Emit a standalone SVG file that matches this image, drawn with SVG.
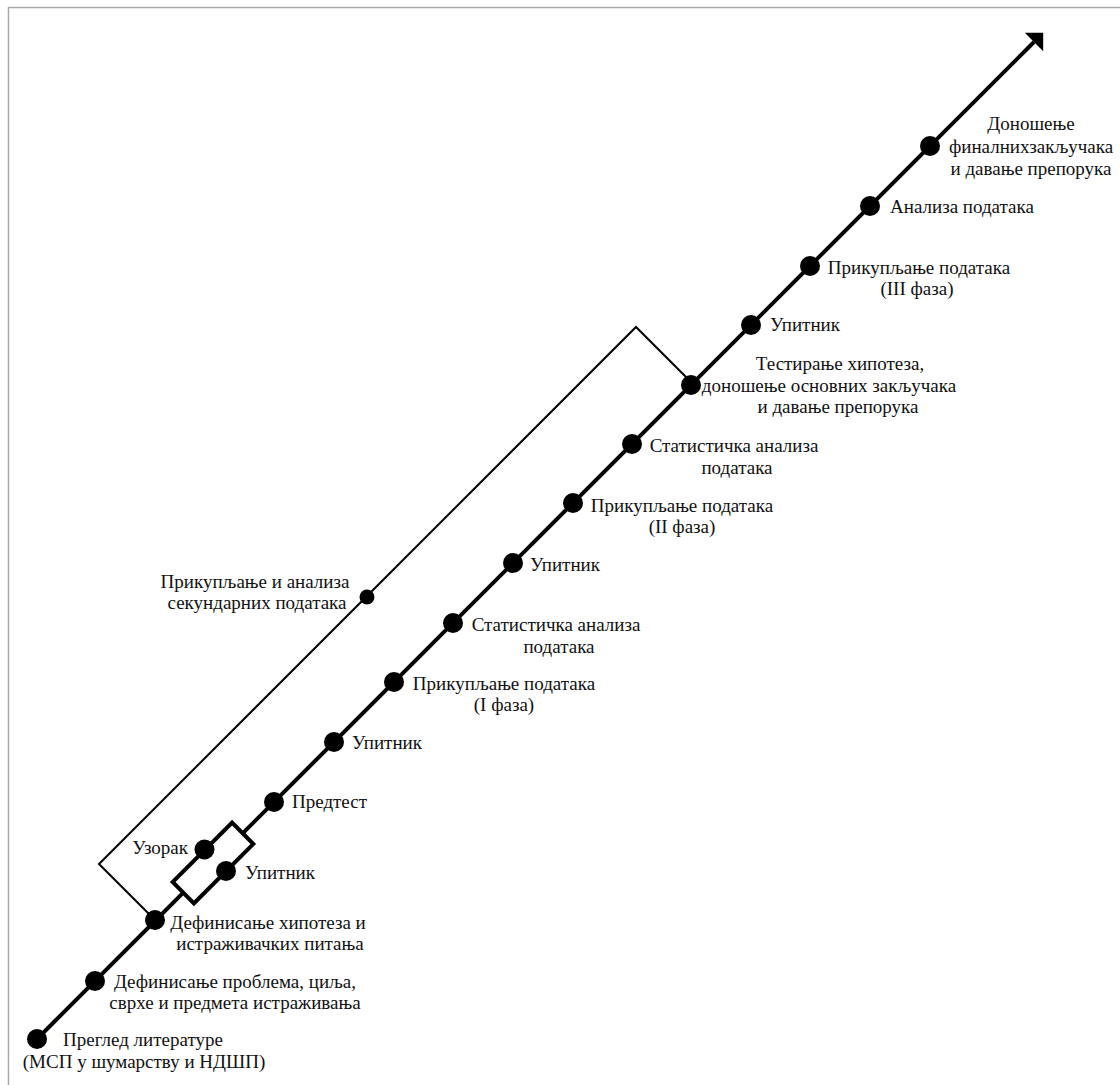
<svg xmlns="http://www.w3.org/2000/svg" width="1120" height="1085" viewBox="0 0 1120 1085">
<style>
text{font-family:"Liberation Serif","Times New Roman",serif;font-size:19px;fill:#111}
.m{text-anchor:middle}
.e{text-anchor:end}
.dot{fill:#000}
.main{stroke:#000;stroke-width:4;fill:none}
.thin{stroke:#000;stroke-width:2;fill:none}
.frame{stroke:#a8a8a8;stroke-width:1.5;fill:none}
</style>
<defs>
<marker id="arrow" markerUnits="userSpaceOnUse" markerWidth="30" markerHeight="30" refX="0" refY="0" viewBox="-2 -15 17 30" orient="auto">
<path d="M0,-13 L13,0 L0,13 Z" fill="#000"/>
</marker>
</defs>
<rect width="1120" height="1085" fill="#fff"/>
<path class="frame" d="M8.5,1085 L8.5,7.5 L1120,7.5"/>
<g id="connectors">
<path class="thin" d="M155,920 L99,864 L636,327 L691,382"/>
<line class="main" x1="37" y1="1039" x2="183.3" y2="892.7"/>
<rect class="main" x="171" y="848" width="84" height="30" transform="rotate(-45 213 863)"/>
<line class="main" x1="242.7" y1="833.3" x2="1034" y2="42" marker-end="url(#arrow)"/>
</g>
<g id="n1"><circle class="dot" cx="37" cy="1039" r="10"/><text class="m" x="143" y="1046">Преглед литературе</text><text class="m" x="144" y="1068">(МСП у шумарству и НДШП)</text></g>
<g id="n2"><circle class="dot" cx="95" cy="981" r="10"/><text class="m" x="235" y="988">Дефинисање проблема, циља,</text><text class="m" x="235" y="1009">сврхе и предмета истраживања</text></g>
<g id="n3"><circle class="dot" cx="155" cy="920" r="10"/><text class="m" x="268" y="929">Дефинисање хипотеза и</text><text class="m" x="270" y="950">истраживачких питања</text></g>
<g id="n4"><circle class="dot" cx="204.5" cy="849.5" r="10"/><text class="e" x="188" y="854">Узорак</text></g>
<g id="n5"><circle class="dot" cx="226" cy="871" r="10"/><text x="245" y="879">Упитник</text></g>
<g id="n6"><circle class="dot" cx="274" cy="802" r="10"/><text x="292" y="808">Предтест</text></g>
<g id="n7"><circle class="dot" cx="334" cy="742" r="10"/><text x="352" y="749">Упитник</text></g>
<g id="n8"><circle class="dot" cx="367" cy="597" r="7.5"/><text class="m" x="255" y="588">Прикупљање и анализа</text><text class="m" x="257" y="609">секундарних података</text></g>
<g id="n9"><circle class="dot" cx="394" cy="682" r="10"/><text class="m" x="504" y="690">Прикупљање података</text><text class="m" x="504" y="711">(I фаза)</text></g>
<g id="n10"><circle class="dot" cx="453" cy="623" r="10"/><text class="m" x="556" y="631">Статистичка анализа</text><text class="m" x="559" y="653">података</text></g>
<g id="n11"><circle class="dot" cx="513" cy="563" r="10"/><text x="530" y="571">Упитник</text></g>
<g id="n12"><circle class="dot" cx="573" cy="503" r="10"/><text class="m" x="682" y="512">Прикупљање података</text><text class="m" x="682" y="533">(II фаза)</text></g>
<g id="n13"><circle class="dot" cx="632" cy="444" r="10"/><text class="m" x="734" y="452">Статистичка анализа</text><text class="m" x="737" y="474">података</text></g>
<g id="n14"><circle class="dot" cx="691" cy="385" r="10"/><text class="m" x="840" y="370">Тестирање хипотеза,</text><text class="m" x="829" y="392">доношење основних закључака</text><text class="m" x="838" y="413">и давање препорука</text></g>
<g id="n15"><circle class="dot" cx="751" cy="325" r="10"/><text x="770" y="331">Упитник</text></g>
<g id="n16"><circle class="dot" cx="810" cy="266" r="10"/><text class="m" x="919" y="274">Прикупљање података</text><text class="m" x="917" y="295">(III фаза)</text></g>
<g id="n17"><circle class="dot" cx="870" cy="206" r="10"/><text x="890" y="213">Анализа података</text></g>
<g id="n18"><circle class="dot" cx="930" cy="146" r="10"/><text class="m" x="1031" y="130">Доношење</text><text class="m" x="1031" y="153">финалнихзакључака</text><text class="m" x="1031" y="175">и давање препорука</text></g>
</svg>
